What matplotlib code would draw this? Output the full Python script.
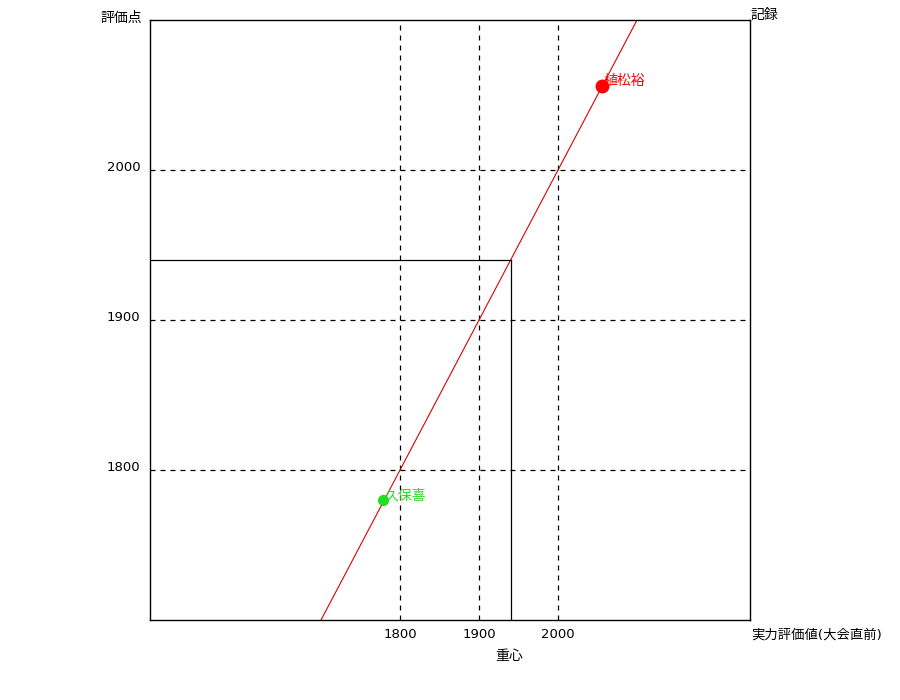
import matplotlib
matplotlib.use("Agg")
import matplotlib.pyplot as plt
import matplotlib.transforms as mtransforms

plt.rcParams['font.family'] = ['DejaVu Sans', 'Noto Sans CJK JP']

# players: (rating before the meet, score)
names = ['植松裕', '久保喜']
rating = [2056, 1779]
score = [2056, 1780]
colors = ['#ff0000', '#22dd22']
sizes = [9, 7]

center_x = 1940
center_y = 1940

x_ticks = [1800, 1900, 2000]
y_ticks = [1800, 1900, 2000]
x_lim = (1483.5, 2243)
y_lim = (1700, 2100)

fig = plt.figure(figsize=(9, 7), dpi=100)
ax = fig.add_axes([150 / 900, 80 / 700, 600 / 900, 600 / 700])
ax.set_xlim(*x_lim)
ax.set_ylim(*y_lim)

# dashed grid at ticks
for xv in x_ticks:
    ax.axvline(xv, color='black', lw=0.9, linestyle=(0, (4, 4)))
for yv in y_ticks:
    ax.axhline(yv, color='black', lw=0.9, linestyle=(0, (4, 4)))

# diagonal y = x
ax.plot([y_lim[0], y_lim[1]], [y_lim[0], y_lim[1]], color='#dd0000', lw=0.8)

# centroid lines
ax.plot([x_lim[0], center_x], [center_y, center_y], color='black', lw=0.9)
ax.plot([center_x, center_x], [center_y, y_lim[0]], color='black', lw=0.9)

for n, xr, ys, c, s in zip(names, rating, score, colors, sizes):
    ax.plot(xr, ys, 'o', color=c, markersize=s, zorder=5)
    ax.annotate(n, (xr, ys), xytext=(1, 5), textcoords='offset pixels',
                color=c, fontsize=10, va='center', ha='left', zorder=6)

ax.set_xticks(x_ticks)
ax.set_yticks(y_ticks)
ax.tick_params(axis='x', length=0, labelsize=9.5, pad=6)
ax.tick_params(axis='y', length=0, labelsize=9.5, pad=7)
for lab in ax.get_yticklabels():
    lab.set_transform(lab.get_transform() + mtransforms.ScaledTranslation(0, 4 / 100, fig.dpi_scale_trans))
for sp in ax.spines.values():
    sp.set_linewidth(1)

# axis captions
ax.text(-8 / 600, 1 + 2 / 600, '評価点', transform=ax.transAxes, ha='right', va='center', fontsize=10)
ax.text(1 + 1 / 600, 1 + 5 / 600, '記録', transform=ax.transAxes, ha='left', va='center', fontsize=10)
ax.text(1 + 1 / 600, -15 / 600, '実力評価値(大会直前)', transform=ax.transAxes, ha='left', va='center', fontsize=9.6)
ax.annotate('重心', (center_x, y_lim[0]), xytext=(-2, -36), textcoords='offset pixels',
            ha='center', va='center', fontsize=10)

plt.savefig('out.png', dpi=100)
